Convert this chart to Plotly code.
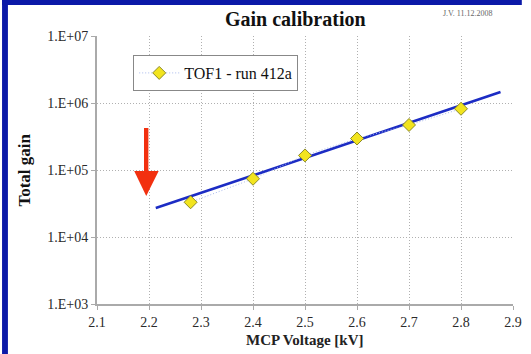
import plotly.graph_objects as go

# Measured gain vs MCP voltage
voltage_kv = [2.28, 2.4, 2.5, 2.6, 2.7, 2.8]
total_gain = [3.3e4, 7.4e4, 1.65e5, 2.95e5, 4.7e5, 8.2e5]

# Exponential fit line (end points)
fit_kv = [2.213, 2.876]
fit_gain = [2.7e4, 1.46e6]

y_tick_vals = [1e3, 1e4, 1e5, 1e6, 1e7]
y_tick_text = ["1.E+03", "1.E+04", "1.E+05", "1.E+06", "1.E+07"]
x_tick_vals = [2.1, 2.2, 2.3, 2.4, 2.5, 2.6, 2.7, 2.8, 2.9]
x_tick_text = ["2.1", "2.2", "2.3", "2.4", "2.5", "2.6", "2.7", "2.8", "2.9"]

W, H = 531, 354
L, R, T, B = 97, 9, 36, 50
PW, PH = W - L - R, H - T - B


def px(x):
    return (x - L) / PW


def py(y):
    return (H - B - y) / PH


SERIF = "Liberation Serif"
BORDER_BLUE = "#0b19a8"

fig = go.Figure()

fig.add_trace(go.Scatter(
    x=fit_kv, y=fit_gain, mode="lines",
    line=dict(color="#1c2cc4", width=2.6),
    showlegend=False, hoverinfo="skip",
))

fig.add_trace(go.Scatter(
    x=voltage_kv, y=total_gain, mode="lines+markers",
    name="TOF1 - run 412a",
    line=dict(color="#a8b8ec", width=1, dash="1px,2px"),
    marker=dict(symbol="diamond", size=10, color="#f2e41e",
                line=dict(color="#8c8a28", width=1)),
))

axis_common = dict(
    showline=True, linecolor="#aaaaaa", linewidth=2,
    showgrid=True, gridcolor="#b0b0b0", gridwidth=1, griddash="1px,2px",
    ticks="outside", ticklen=4, tickcolor="#aaaaaa",
    tickfont=dict(family=SERIF, size=14, color="#2a2a2a"),
    zeroline=False,
)

fig.update_xaxes(range=[2.1, 2.9], tickvals=x_tick_vals, ticktext=x_tick_text,
                 **axis_common)
fig.update_yaxes(type="log", range=[3, 7], tickvals=y_tick_vals,
                 ticktext=y_tick_text, **axis_common)

shapes = [
    # blue frame strips on the left and top
    dict(type="rect", xref="paper", yref="paper", layer="above",
         x0=px(0), x1=px(6), y0=py(H), y1=py(0),
         fillcolor=BORDER_BLUE, line=dict(width=0)),
    dict(type="rect", xref="paper", yref="paper", layer="above",
         x0=px(0), x1=px(W), y0=py(5), y1=py(0),
         fillcolor=BORDER_BLUE, line=dict(width=0)),
    # red pointer arrow: shaft and head
    dict(type="rect", xref="paper", yref="paper", layer="above",
         x0=px(145), x1=px(149.5), y0=py(174), y1=py(128),
         fillcolor="#f2300f", line=dict(width=0)),
    dict(type="path", xref="paper", yref="paper", layer="above",
         path=f"M {px(135)},{py(171)} L {px(160)},{py(171)} L {px(147.3)},{py(196)} Z",
         fillcolor="#f2300f", line=dict(width=0)),
]

centered = dict(xref="paper", yref="paper", showarrow=False,
                xanchor="center", yanchor="middle")

annotations = [
    dict(text="<b>Gain calibration</b>", x=px(300), y=py(19),
         font=dict(family=SERIF, size=20, color="#111111"), **centered),
    dict(text="J.V. 11.12.2008", x=px(476), y=py(13),
         font=dict(family=SERIF, size=8, color="#666666"), **centered),
    dict(text="<b>Total gain</b>", x=px(22), y=py(170), textangle=-90,
         font=dict(family=SERIF, size=17, color="#111111"), **centered),
    dict(text="<b>MCP Voltage [kV]</b>", x=px(309), y=py(340),
         font=dict(family=SERIF, size=15, color="#222222"), **centered),
]

fig.update_layout(
    width=W, height=H,
    margin=dict(l=L, r=R, t=T, b=B),
    paper_bgcolor="white", plot_bgcolor="white",
    shapes=shapes, annotations=annotations,
    legend=dict(x=px(134), y=py(55), xanchor="left", yanchor="top",
                bordercolor="#888888", borderwidth=1, bgcolor="white",
                font=dict(family=SERIF, size=16, color="#111111"),
                itemwidth=40),
)

fig.write_html("out.html")
